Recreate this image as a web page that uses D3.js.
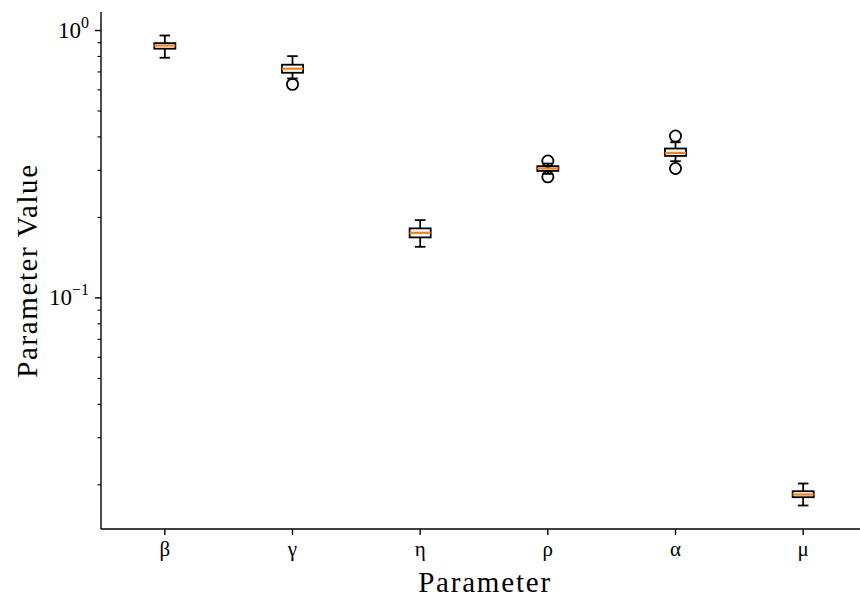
<!DOCTYPE html>
<html>
<head>
<meta charset="utf-8">
<script src="https://cdn.jsdelivr.net/npm/d3@7"></script>
<style>
  html, body { margin: 0; padding: 0; background: #fff; }
  svg { display: block; }
  text { font-family: "Liberation Serif", "DejaVu Serif", serif; fill: #000; }
</style>
</head>
<body>
<svg id="chart" width="860" height="598"></svg>
<script>
// Parameter names shown on the x axis
const categories = ["β", "γ", "η", "ρ", "α", "μ"];

// Box statistics per parameter: lower whisker, Q1, median, Q3, upper whisker
const whiskerLow  = [0.791, 0.662, 0.1553, 0.291, 0.3245, 0.01674];
const q1          = [0.855, 0.695, 0.1684, 0.2985, 0.3396, 0.01798];
const medians     = [0.879, 0.720, 0.1752, 0.305, 0.3484, 0.01840];
const q3          = [0.897, 0.745, 0.1820, 0.311, 0.362, 0.01893];
const whiskerHigh = [0.958, 0.802, 0.1954, 0.318, 0.382, 0.02023];

// Outlying samples per parameter
const outliers = [[], [0.629], [], [0.325, 0.2836], [0.403, 0.3048], []];

// Major tick values on the log axis
const yMajorTicks = [0.1, 1];
const yMajorExponents = ["−1", "0"];

const svg = d3.select("#chart");
const plotLeft = 101, plotRight = 867, plotTop = 12, plotBottom = 529;

// Log domain padded by 5% of the data span (in log space) on both ends
const allVals = whiskerLow.concat(whiskerHigh, outliers.flat());
const lmin = Math.log10(d3.min(allVals)), lmax = Math.log10(d3.max(allVals));
const pad = (lmax - lmin) * 0.05;
const y = d3.scaleLog()
  .domain([Math.pow(10, lmin - pad), Math.pow(10, lmax + pad)])
  .range([plotBottom, plotTop]);

const x = d3.scaleLinear().domain([0.5, categories.length + 0.5]).range([plotLeft, plotRight]);
const boxW = 0.165;   // box width in category units
const capW = boxW / 2;

const g = svg.append("g");

// Boxes, whiskers, caps, medians
const boxes = g.selectAll("g.box").data(categories).enter().append("g").attr("class", "box");
boxes.each(function(c, i) {
  const sel = d3.select(this);
  const cx = x(i + 1);
  const hw = (x(boxW) - x(0)) / 2;
  const cw = (x(capW) - x(0)) / 2;
  const line = (x1, y1, x2, y2, color, w) => sel.append("line")
    .attr("x1", x1).attr("y1", y1).attr("x2", x2).attr("y2", y2)
    .attr("stroke", color).attr("stroke-width", w);
  // whiskers
  line(cx, y(q1[i]), cx, y(whiskerLow[i]), "#000", 1.8);
  line(cx, y(q3[i]), cx, y(whiskerHigh[i]), "#000", 1.8);
  // caps
  line(cx - cw, y(whiskerLow[i]), cx + cw, y(whiskerLow[i]), "#000", 1.8);
  line(cx - cw, y(whiskerHigh[i]), cx + cw, y(whiskerHigh[i]), "#000", 1.8);
  // box
  sel.append("rect")
    .attr("x", cx - hw).attr("y", y(q3[i]))
    .attr("width", 2 * hw).attr("height", y(q1[i]) - y(q3[i]))
    .attr("fill", "none").attr("stroke", "#000").attr("stroke-width", 1.8);
  // median
  line(cx - hw, y(medians[i]), cx + hw, y(medians[i]), "#ff7f0e", 2.2);
  // outliers
  sel.selectAll("circle").data(outliers[i]).enter().append("circle")
    .attr("cx", cx).attr("cy", d => y(d)).attr("r", 5.6)
    .attr("fill", "none").attr("stroke", "#000").attr("stroke-width", 1.8);
});

// Y axis: spine, major and minor ticks
const yAxisG = svg.append("g");
yAxisG.append("line").attr("x1", plotLeft).attr("x2", plotLeft).attr("y1", plotTop).attr("y2", plotBottom)
  .attr("stroke", "#000").attr("stroke-width", 1.4);
const minorTicks = [];
[0.01, 0.1, 1].forEach(b => { for (let k = 2; k <= 9; k++) minorTicks.push(b * k); });
const dom = y.domain();
minorTicks.filter(v => v >= dom[0] && v <= dom[1]).forEach(v => {
  yAxisG.append("line").attr("x1", plotLeft - 3.5).attr("x2", plotLeft)
    .attr("y1", y(v)).attr("y2", y(v)).attr("stroke", "#000").attr("stroke-width", 1.1);
});
yMajorTicks.forEach((v, i) => {
  yAxisG.append("line").attr("x1", plotLeft - 6).attr("x2", plotLeft)
    .attr("y1", y(v)).attr("y2", y(v)).attr("stroke", "#000").attr("stroke-width", 1.4);
  const t = yAxisG.append("text").attr("x", 89).attr("y", y(v) + 7)
    .attr("text-anchor", "end").style("font-size", "23px");
  t.append("tspan").text("10");
  t.append("tspan").attr("dy", -10).style("font-size", "16px").text(yMajorExponents[i]);
});

// X axis: spine, ticks, labels
const xAxisG = svg.append("g");
xAxisG.append("line").attr("x1", plotLeft).attr("x2", plotRight).attr("y1", plotBottom).attr("y2", plotBottom)
  .attr("stroke", "#000").attr("stroke-width", 1.4);
categories.forEach((c, i) => {
  const cx = x(i + 1);
  xAxisG.append("line").attr("x1", cx).attr("x2", cx).attr("y1", plotBottom).attr("y2", plotBottom + 6)
    .attr("stroke", "#000").attr("stroke-width", 1.4);
  xAxisG.append("text").attr("x", cx).attr("y", 556).attr("text-anchor", "middle")
    .style("font-size", "21px").text(c);
});

// Axis titles
svg.append("text").attr("x", (plotLeft + plotRight) / 2 + 1).attr("y", 592)
  .attr("text-anchor", "middle").style("font-size", "29px").style("letter-spacing", "1.8px")
  .text("Parameter");
svg.append("text").attr("transform", `translate(37, ${(plotTop + plotBottom) / 2}) rotate(-90)`)
  .attr("text-anchor", "middle").style("font-size", "29px").style("letter-spacing", "1.6px")
  .text("Parameter Value");
</script>
</body>
</html>
